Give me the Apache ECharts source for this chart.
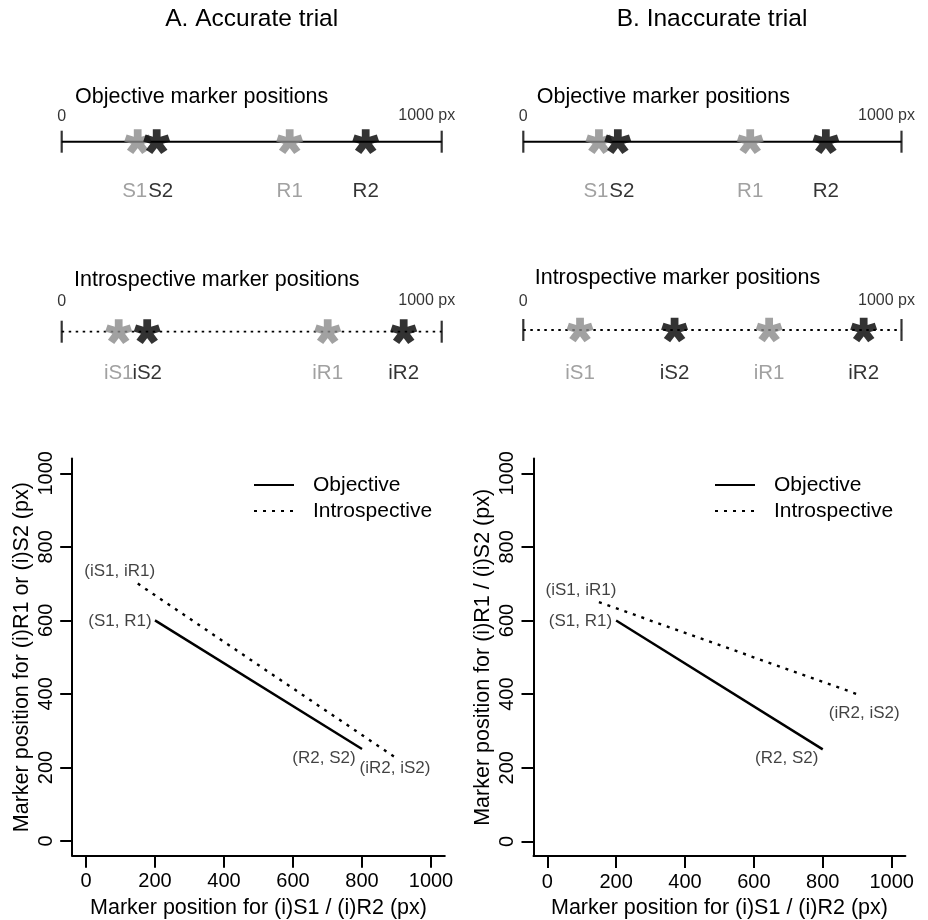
<!DOCTYPE html>
<html>
<head>
<meta charset="utf-8">
<script src="https://cdn.jsdelivr.net/npm/echarts@6/dist/echarts.min.js"></script>
<style>
  html, body { margin: 0; padding: 0; background: #fff; }
  #main { width: 928px; height: 920px; }
</style>
</head>
<body>
<div id="main"></div>
<script>
// marker names: first pair drawn grey, second pair black
var firstNames = ['S1', 'R1'];
var secondNames = ['S2', 'R2'];

// marker positions in px on the 0..1000 line
var objA1 = [200, 600];   // S1, R1
var objA2 = [250, 800];   // S2, R2
var intA1 = [150, 700];   // iS1, iR1
var intA2 = [225, 900];   // iS2, iR2
var objB1 = [200, 600];
var objB2 = [250, 800];
var intB1 = [150, 650];
var intB2 = [400, 900];

var lineEnds = [0, 1000];
var endLabels = ['0', '1000 px'];
var tickVals = [0, 200, 400, 600, 800, 1000];

var grey = '#8a8a8a';
var font = '"Liberation Sans", Arial, Helvetica, sans-serif';

var chart = echarts.init(document.getElementById('main'));

// five armed asterisk like the one R draws with pch='*'
var star = (function () {
    var r = 11, hw = 3.3, c = 12, d = '';
    for (var k = 0; k < 5; k++) {
        var a = (-90 + 72 * k) * Math.PI / 180;
        var ux = Math.cos(a), uy = Math.sin(a);
        var px = -uy * hw, py = ux * hw;
        var pts = [
            [c + px, c + py], [c + ux * r + px, c + uy * r + py],
            [c + ux * r - px, c + uy * r - py], [c - px, c - py]
        ];
        d += 'M' + pts.map(function (p) { return p[0].toFixed(2) + ' ' + p[1].toFixed(2); }).join(' L') + ' Z ';
    }
    return 'path://' + d;
})();

var grids = [
    {left: 61.7, top: 121.7, width: 380, height: 40},      // A objective
    {left: 61.7, top: 311.7, width: 380, height: 40},      // A introspective
    {left: 72.2, top: 458.6, width: 372.6, height: 397.1}, // A plot
    {left: 523.3, top: 121.7, width: 378.2, height: 40},   // B objective
    {left: 523.3, top: 310, width: 378.2, height: 40},     // B introspective
    {left: 533.5, top: 458.6, width: 371.9, height: 397.5} // B plot
];
grids.forEach(function (g) { g.outerBoundsMode = 'none'; });

var xAxes = [], yAxes = [];

function lineAxes(gi) {
    xAxes.push({gridIndex: gi, type: 'value', min: 0, max: 1000, show: false});
    yAxes.push({gridIndex: gi, type: 'value', min: -1, max: 1, show: false});
}

function plain(v) { return String(v); }

function plotAxes(gi, yName) {
    var axisLine = {onZero: false, lineStyle: {color: '#000', width: 2}};
    var axisTick = {show: true, customValues: tickVals, length: 12, lineStyle: {color: '#000', width: 2}};
    xAxes.push({
        gridIndex: gi, type: 'value', min: -40, max: 1040,
        name: 'Marker position for (i)S1 / (i)R2 (px)',
        nameLocation: 'middle', nameGap: 41,
        nameTextStyle: {fontSize: 21.5, color: '#000'},
        axisLine: axisLine, axisTick: axisTick,
        axisLabel: {customValues: tickVals, formatter: plain, margin: 16, fontSize: 20, color: '#000'},
        splitLine: {show: false}
    });
    yAxes.push({
        gridIndex: gi, type: 'value', min: -40, max: 1040,
        name: yName,
        nameLocation: 'middle', nameGap: 39,
        nameTextStyle: {fontSize: 21.5, color: '#000'},
        axisLine: axisLine, axisTick: axisTick,
        axisLabel: {customValues: tickVals, formatter: plain, rotate: 90, margin: 16, fontSize: 20, color: '#000'},
        splitLine: {show: false}
    });
}

var series = [];

function numberLine(gi, first, second, prefix, dotted, lblDy, endDy, nudge) {
    series.push({
        type: 'line', xAxisIndex: gi, yAxisIndex: gi, silent: true,
        data: lineEnds.map(function (v) { return [v, 0]; }),
        symbol: 'none',
        lineStyle: {color: '#000', width: dotted ? 1.8 : 2, type: dotted ? [2.5, 4.5] : 'solid'}
    });
    series.push({
        type: 'scatter', xAxisIndex: gi, yAxisIndex: gi, silent: true, clip: false,
        data: lineEnds.map(function (v, i) {
            return {name: endLabels[i], value: [v, 0], label: {offset: i ? [-15, endDy - 1] : [0, endDy]}};
        }),
        symbol: 'rect', symbolSize: [2.2, 22],
        itemStyle: {color: '#000'},
        label: {show: true, position: 'inside', formatter: '{b}', fontSize: 16, color: '#000'}
    });
    [[first, firstNames, grey, nudge[0]], [second, secondNames, '#000', nudge[1]]].forEach(function (s) {
        series.push({
            type: 'scatter', xAxisIndex: gi, yAxisIndex: gi, silent: true, clip: false, z: 4,
            data: s[0].map(function (v, i) {
                var item = {name: prefix + s[1][i], value: [v, 0]};
                if (i === 0) item.label = {offset: [s[3], lblDy]};
                return item;
            }),
            symbol: star, symbolSize: [27, 26], symbolKeepAspect: true,
            itemStyle: {color: s[2]},
            label: {show: true, position: 'inside', formatter: '{b}', fontSize: 20.5, color: s[2], offset: [0, lblDy]}
        });
    });
}

function plotSeries(gi, o1, o2, i1, i2, offs) {
    var objPts = [[o1[0], o1[1]], [o2[1], o2[0]]];
    var intPts = [[i1[0], i1[1]], [i2[1], i2[0]]];
    var objNames = ['(' + firstNames[0] + ', ' + firstNames[1] + ')', '(' + secondNames[1] + ', ' + secondNames[0] + ')'];
    var intNames = ['(i' + firstNames[0] + ', i' + firstNames[1] + ')', '(i' + secondNames[1] + ', i' + secondNames[0] + ')'];
    series.push({
        name: 'Objective', type: 'line', xAxisIndex: gi, yAxisIndex: gi,
        data: objPts, symbol: 'none',
        lineStyle: {color: '#000', width: 2.4, type: 'solid'}, itemStyle: {color: '#000'}
    });
    series.push({
        name: 'Introspective', type: 'line', xAxisIndex: gi, yAxisIndex: gi,
        data: intPts, symbol: 'none',
        lineStyle: {color: '#000', width: 2.4, type: [3, 6]}, itemStyle: {color: '#000'}
    });
    series.push({
        name: 'pointLabels', type: 'scatter', xAxisIndex: gi, yAxisIndex: gi, silent: true, clip: false,
        data: objPts.concat(intPts).map(function (p, i) {
            return {name: objNames.concat(intNames)[i], value: p, label: {offset: offs[i]}};
        }),
        symbolSize: 1, itemStyle: {color: 'rgba(0,0,0,0)'},
        label: {show: true, position: 'inside', formatter: '{b}', fontSize: 17, color: '#111'}
    });
}

lineAxes(0); lineAxes(1);
plotAxes(2, 'Marker position for (i)R1 or (i)S2 (px)');
lineAxes(3); lineAxes(4);
plotAxes(5, 'Marker position for (i)R1 / (i)S2 (px)');

numberLine(0, objA1, objA2, '', false, 50, -25, [-3, 4]);
numberLine(1, intA1, intA2, 'i', true, 41.6, -30, [0, 0]);
plotSeries(2, objA1, objA2, intA1, intA2, [[-35, 0.6], [-38, 9], [-18, -12], [-1.5, 10]]);
numberLine(3, objB1, objB2, '', false, 50, -25, [-3, 4]);
numberLine(4, intB1, intB2, 'i', true, 43, -28.5, [0, 0]);
plotSeries(5, objB1, objB2, intB1, intB2, [[-35.7, 0.5], [-36, 9], [-18, -12], [7, 19]]);

function legendAt(left) {
    return {
        left: left, top: 474, orient: 'vertical', padding: 0,
        data: ['Objective', 'Introspective'],
        itemWidth: 40, itemHeight: 14, itemGap: 4,
        itemStyle: {opacity: 0},
        selectedMode: false,
        textStyle: {fontSize: 21, color: '#000', lineHeight: 22, padding: [0, 0, 0, 14]}
    };
}

function text(x, y, str, size, align) {
    return {
        type: 'text', x: x, y: y, silent: true,
        style: {
            text: str, fill: '#000', font: size + 'px ' + font,
            textAlign: align, textVerticalAlign: 'middle', align: align, verticalAlign: 'middle'
        }
    };
}

var option = {
    animation: false,
    backgroundColor: '#fff',
    textStyle: {fontFamily: font},
    grid: grids,
    xAxis: xAxes,
    yAxis: yAxes,
    legend: [legendAt(253), legendAt(714)],
    graphic: [
        text(251.7, 19.5, 'A. Accurate trial', 24.5, 'center'),
        text(712, 19.5, 'B. Inaccurate trial', 24.5, 'center'),
        text(75, 97, 'Objective marker positions', 21.5, 'left'),
        text(536.7, 97, 'Objective marker positions', 21.5, 'left'),
        text(74, 280, 'Introspective marker positions', 21.5, 'left'),
        text(534.7, 278.5, 'Introspective marker positions', 21.5, 'left')
    ],
    series: series
};

chart.setOption(option);
</script>
</body>
</html>
